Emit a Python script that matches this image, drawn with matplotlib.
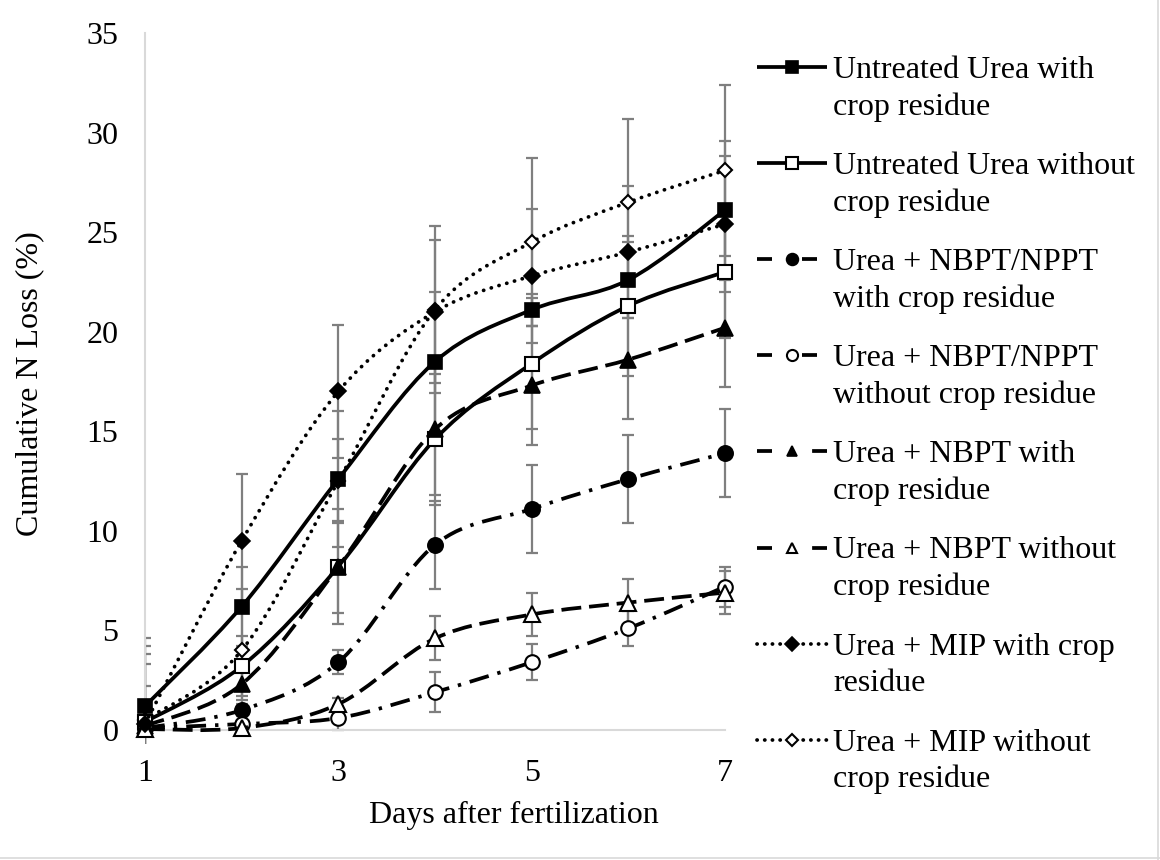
import matplotlib
matplotlib.use("Agg")
import matplotlib.pyplot as plt
import numpy as np
from matplotlib.path import Path
from matplotlib.patches import PathPatch, Rectangle
from matplotlib.lines import Line2D

# ---------------- data ----------------
days = [1, 2, 3, 4, 5, 6, 7]
x_ticks = [1, 3, 5, 7]
y_ticks = [0, 5, 10, 15, 20, 25, 30, 35]

series_labels = [
    "Untreated Urea with\ncrop residue",
    "Untreated Urea without\ncrop residue",
    "Urea + NBPT/NPPT\nwith crop residue",
    "Urea + NBPT/NPPT\nwithout crop residue",
    "Urea + NBPT with\ncrop residue",
    "Urea + NBPT without\ncrop residue",
    "Urea + MIP with crop\nresidue",
    "Urea + MIP without\ncrop residue",
]

uu_cr = [1.2, 6.2, 12.6, 18.5, 21.1, 22.6, 26.1]
uu_ncr = [0.4, 3.2, 8.2, 14.6, 18.4, 21.3, 23.0]
np_cr = [0.1, 1.0, 3.4, 9.3, 11.1, 12.6, 13.9]
np_ncr = [0.1, 0.3, 0.6, 1.9, 3.4, 5.1, 7.2]
nb_cr = [0.2, 2.3, 8.2, 15.1, 17.3, 18.6, 20.2]
nb_ncr = [0.05, 0.1, 1.3, 4.6, 5.8, 6.4, 6.9]
mip_cr = [0.3, 9.5, 17.0, 21.0, 22.8, 24.0, 25.4]
mip_ncr = [0.5, 4.0, 12.5, 21.1, 24.5, 26.5, 28.1]

uu_cr_err = [3.4, 2.0, 3.4, 3.5, 0.8, 1.9, 3.5]
uu_ncr_err = [2.9, 1.5, 2.9, 3.3, 3.3, 3.5, 3.3]
np_cr_err = [0.1, 0.3, 0.6, 2.2, 2.2, 2.2, 2.2]
np_ncr_err = [0.1, 0.2, 0.6, 1.0, 0.9, 0.9, 1.0]
nb_cr_err = [2.0, 0.8, 2.3, 3.3, 3.0, 3.0, 3.0]
nb_ncr_err = [0.1, 0.2, 0.3, 1.1, 1.1, 1.2, 1.1]
mip_cr_err = [3.5, 3.35, 3.35, 3.6, 3.35, 3.3, 3.4]
mip_ncr_err = [3.7, 3.1, 2.1, 4.2, 4.2, 4.2, 4.3]

series_values = [uu_cr, uu_ncr, np_cr, np_ncr, nb_cr, nb_ncr, mip_cr, mip_ncr]
series_errors = [uu_cr_err, uu_ncr_err, np_cr_err, np_ncr_err,
                 nb_cr_err, nb_ncr_err, mip_cr_err, mip_ncr_err]

# ---------------- styles ----------------
LW = 2.7
SOLID = "-"
DASHDOT = (0, (5.3, 2.4, 0.9, 2.4))
DASHED = (0, (5.3, 2.1))
DOTTED = (0, (0.05, 2.1))
# legend-handle dash patterns (in line-width units)
LEG_SOLID = "-"
LEG_DASHDOT = (0, (4.0, 4.3, 0.9, 2.8, 4.0, 20))
LEG_DASHED = (0, (4.0, 10.7, 4.0, 20))
LEG_DOTTED = (0, (0.05, 2.0))

# draw order: the open-diamond series sits beneath the others in the reference
draw_order = [1.0, 1.1, 1.2, 1.3, 1.4, 1.5, 1.6, 0.5]

styles = [
    dict(ls=SOLID, leg=LEG_SOLID, cap="butt", marker="s", ms=10, mfc="black", mew=1.2, lms=8.5),
    dict(ls=SOLID, leg=LEG_SOLID, cap="butt", marker="s", ms=10, mfc="white", mew=1.5, lms=8.5),
    dict(ls=DASHDOT, leg=LEG_DASHDOT, cap="butt", marker="o", ms=11, mfc="black", mew=1.2, lms=8.5),
    dict(ls=DASHDOT, leg=LEG_DASHDOT, cap="butt", marker="o", ms=10.5, mfc="white", mew=1.5, lms=8),
    dict(ls=DASHED, leg=LEG_DASHED, cap="butt", marker="^", ms=11, mfc="black", mew=1.2, lms=7.5),
    dict(ls=DASHED, leg=LEG_DASHED, cap="butt", marker="^", ms=11, mfc="white", mew=1.5, lms=7.5),
    dict(ls=DOTTED, leg=LEG_DOTTED, cap="round", marker="D", ms=8.5, mfc="black", mew=1.2, lms=7),
    dict(ls=DOTTED, leg=LEG_DOTTED, cap="round", marker="D", ms=7.5, mfc="white", mew=1.5, lms=6),
]

FONT = "Liberation Serif"
FS = 23
plt.rcParams["font.family"] = [FONT, "DejaVu Serif"]

W, H = 1160, 860
fig = plt.figure(figsize=(W / 100, H / 100), dpi=100)
fig.patch.set_facecolor("white")

ax_left, ax_right, ax_top, ax_bottom = 145, 725, 33, 730
ax = fig.add_axes([ax_left / W, 1 - ax_bottom / H,
                   (ax_right - ax_left) / W, (ax_bottom - ax_top) / H])
ax.set_xlim(1, 7)
ax.set_ylim(0, 35)
ax.set_xticks(x_ticks)
ax.set_yticks(y_ticks)
ax.tick_params(axis="both", length=0, labelsize=FS)
ax.tick_params(axis="y", pad=19)
ax.tick_params(axis="x", pad=21)
for s in ["top", "right"]:
    ax.spines[s].set_visible(False)
for s in ["left", "bottom"]:
    ax.spines[s].set_color("#d9d9d9")
    ax.spines[s].set_linewidth(1.5)


def smooth_path(xs, ys):
    pts = np.column_stack([xs, ys]).astype(float)
    n = len(pts)
    verts = [pts[0]]
    codes = [Path.MOVETO]
    for i in range(n - 1):
        p0 = pts[i - 1] if i > 0 else pts[i]
        p1 = pts[i]
        p2 = pts[i + 1]
        p3 = pts[i + 2] if i + 2 < n else pts[i + 1]
        c1 = p1 + (p2 - p0) / 6.0
        c2 = p2 - (p3 - p1) / 6.0
        verts += [c1, c2, p2]
        codes += [Path.CURVE4] * 3
    return Path(verts, codes)


clip_rect = Rectangle((0, -0.02), 1.03, 1.1, transform=ax.transAxes)

for k, (vals, errs, st) in enumerate(zip(series_values, series_errors, styles)):
    z = 3 + draw_order[k]
    eb = ax.errorbar(days, vals, yerr=errs, fmt="none", ecolor="#7f7f7f",
                     elinewidth=1.6, capsize=4, capthick=1.6, zorder=2)
    for art in list(eb.lines[1]) + list(eb.lines[2]):
        art.set_clip_path(clip_rect)
    patch = PathPatch(smooth_path(days, vals), fill=False, edgecolor="black",
                      linewidth=LW, linestyle=st["ls"], capstyle=st["cap"],
                      zorder=z)
    patch.set_clip_on(False)
    ax.add_patch(patch)
    ax.plot(days, vals, linestyle="none", marker=st["marker"], ms=st["ms"],
            mfc=st["mfc"], mec="black", mew=st["mew"], clip_on=False,
            zorder=z + 0.05)

# axis titles
fig.text(514 / W, 1 - 815 / H, "Days after fertilization", ha="center",
         va="center", fontsize=FS)
fig.text(30 / W, 1 - 384 / H, "Cumulative N Loss (%)", ha="center",
         va="center", rotation=90, fontsize=FS)

# ---------------- manual legend ----------------
lax = fig.add_axes([0, 0, 1, 1], zorder=10)
lax.set_xlim(0, W)
lax.set_ylim(H, 0)
lax.axis("off")
base0 = 78
step = 96.1
for k, (lab, st) in enumerate(zip(series_labels, styles)):
    yb = base0 + k * step
    yh = yb - 11
    lax.add_line(Line2D([757, 827], [yh, yh], color="black", linewidth=LW,
                        linestyle=st["leg"], solid_capstyle="butt",
                        dash_capstyle=st["cap"]))
    lax.plot([792], [yh], linestyle="none", marker=st["marker"],
             ms=st["lms"], mfc=st["mfc"], mec="black", mew=st["mew"])
    for j, line in enumerate(lab.split("\n")):
        lax.text(833, yb + j * 36.5, line, ha="left", va="baseline",
                 fontsize=FS)

# chart border (right and bottom visible in reference)
lax.add_line(Line2D([W - 2, W - 2], [0, H], color="#d9d9d9", linewidth=1.2))
lax.add_line(Line2D([0, W], [H - 2, H - 2], color="#d9d9d9", linewidth=1.2))

fig.savefig("out.png", dpi=100, facecolor="white")
